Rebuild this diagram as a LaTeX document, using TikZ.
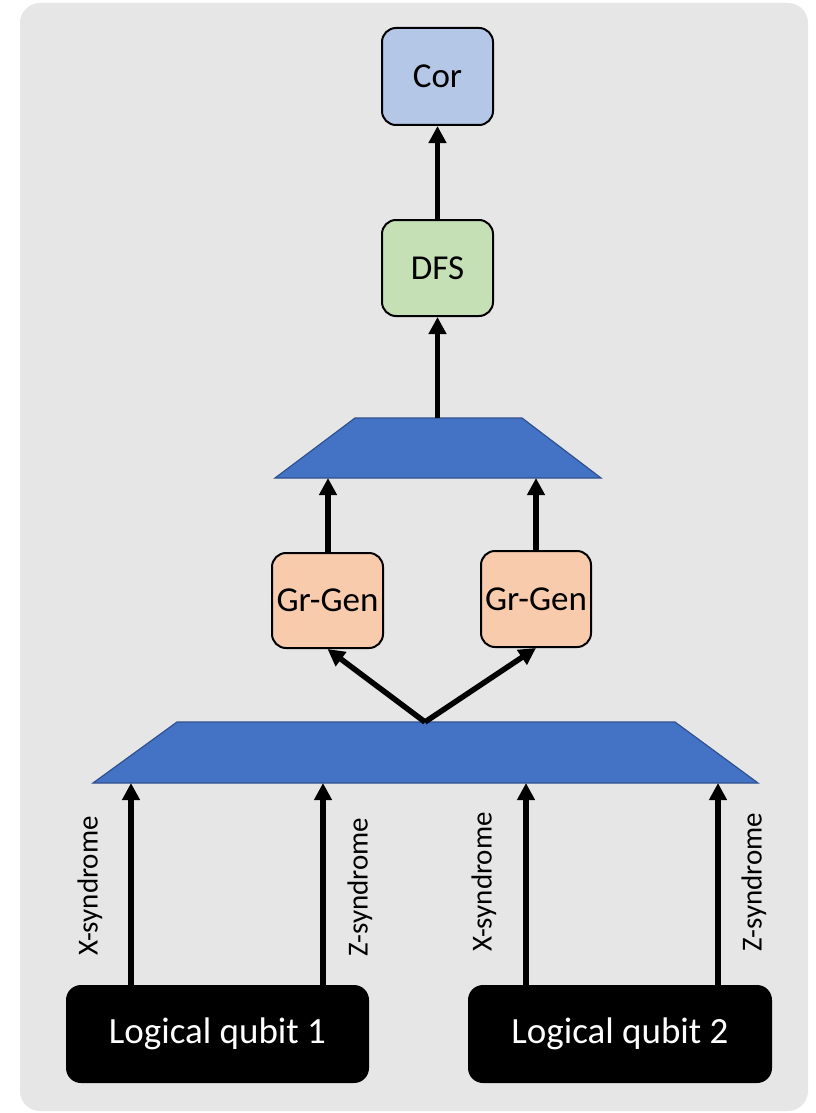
\documentclass[tikz,border=0pt]{standalone}
\usepackage{fontspec}
\setmainfont{Carlito}
\usetikzlibrary{arrows.meta}
\definecolor{panel}{RGB}{231,230,230}
\definecolor{corfill}{RGB}{180,199,231}
\definecolor{dfsfill}{RGB}{197,224,180}
\definecolor{genfill}{RGB}{248,203,173}
\definecolor{muxfill}{RGB}{68,114,196}
\definecolor{muxedge}{RGB}{47,82,143}
\begin{document}
\begin{tikzpicture}[x=1pt,y=-1pt,
  box/.style={draw=black, line width=2pt, rounded corners=14pt, inner sep=0pt,
    font=\fontsize{35}{40}\selectfont},
  qubit/.style={fill=black, rounded corners=15pt, text=white, inner sep=0pt,
    font=\fontsize{37}{42}\selectfont},
  arr/.style={line width=5.5pt, -{Triangle[length=17pt,width=17pt]}},
  lbl/.style={rotate=90, inner sep=0pt, font=\fontsize{29}{34}\selectfont},
  mux/.style={fill=muxfill, draw=muxedge, line width=1.2pt}]

% page and grey panel
\useasboundingbox (0,0) rectangle (815,1113);
\fill[white] (0,0) rectangle (815,1113);
\fill[panel, rounded corners=20pt] (20,3) rectangle (808,1111);

% processing boxes
\node[box, fill=corfill, minimum width=111pt, minimum height=97pt] (cor) at (437.5,76.5) {Cor};
\node[box, fill=dfsfill, minimum width=111pt, minimum height=96pt] (dfs) at (437.5,268) {DFS};
\node[box, fill=genfill, minimum width=111pt, minimum height=95pt] (g1) at (327.5,600.5) {Gr-Gen};
\node[box, fill=genfill, minimum width=110pt, minimum height=96pt] (g2) at (536,599) {Gr-Gen};

% logical qubits
\node[qubit, minimum width=303pt, minimum height=98pt] (q1) at (217.5,1034) {Logical qubit 1};
\node[qubit, minimum width=304pt, minimum height=98pt] (q2) at (620,1034) {Logical qubit 2};

% upper combiner
\fill[mux] (275,478) -- (355,418) -- (522,418) -- (601,478) -- cycle;
\coordinate (utop) at (437.5,418);
\coordinate (ubot1) at (328,478);
\coordinate (ubot2) at (536,478);

% lower combiner
\fill[mux] (93,783) -- (177,722) -- (675,722) -- (758,783) -- cycle;
\coordinate (ltop) at (425,722);
\coordinate (lx1) at (131,783);
\coordinate (lz1) at (323,783);
\coordinate (lx2) at (526,783);
\coordinate (lz2) at (718,783);

% connectors
\draw[arr] (dfs) -- (cor);
\draw[arr] (utop) -- (dfs);
\draw[arr] (g1.north -| ubot1) -- (ubot1);
\draw[arr] (g2.north -| ubot2) -- (ubot2);
\draw[arr, line join=miter] (ltop) -- (g1.south);
\draw[arr, line join=miter] (ltop) -- (g2.south);
\draw[arr] (q1.north -| lx1) -- (lx1);
\draw[arr] (q1.north -| lz1) -- (lz1);
\draw[arr] (q2.north -| lx2) -- (lx2);
\draw[arr] (q2.north -| lz2) -- (lz2);

% syndrome labels
\node[lbl] (sx1) at (90,886) {X-syndrome};
\node[lbl] (sz1) at (360,887) {Z-syndrome};
\node[lbl] (sx2) at (484,882) {X-syndrome};
\node[lbl] (sz2) at (754,882) {Z-syndrome};
\end{tikzpicture}
\end{document}
